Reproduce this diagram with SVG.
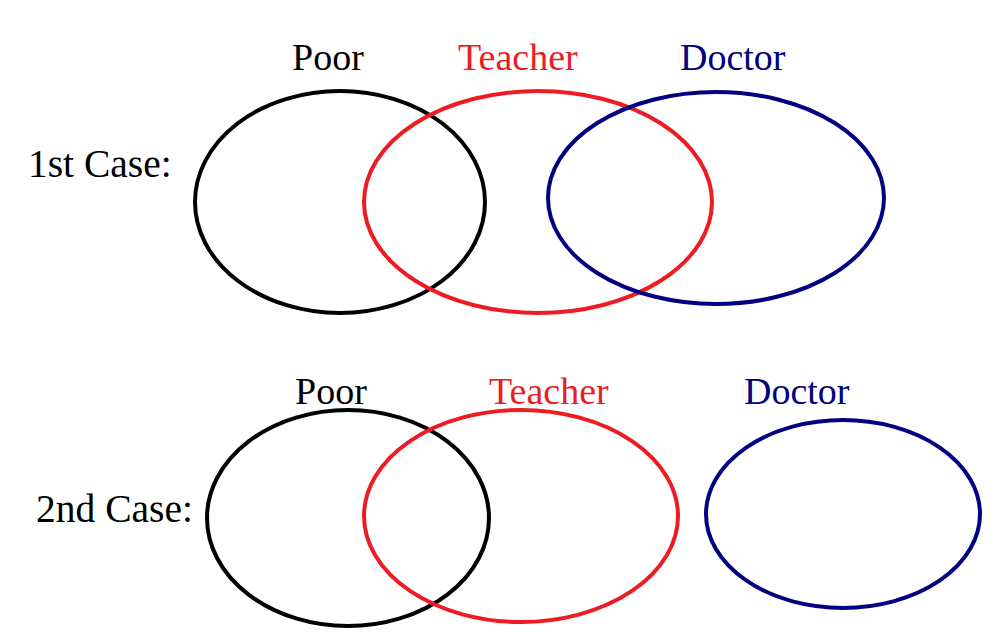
<svg xmlns="http://www.w3.org/2000/svg" width="996" height="643" viewBox="0 0 996 643">
<style>
text{font-family:'Liberation Serif','Tinos','DejaVu Serif',serif;font-size:38px}
.lbl{font-size:39.5px;fill:#000}
.k{fill:#000}.r{fill:#ED1C24}.b{fill:#000080}
ellipse{fill:none;stroke-width:4}
.ks{stroke:#000}.rs{stroke:#ED1C24}.bs{stroke:#000080}
</style>
<rect width="996" height="643" fill="#fff"/>
<text class="lbl" x="28" y="177">1st Case:</text>
<text class="lbl" x="36" y="522">2nd Case:</text>
<g id="poor1"><ellipse class="ks" cx="340" cy="202" rx="145" ry="111"/><text class="k" x="292" y="70">Poor</text></g>
<g id="teacher1"><ellipse class="rs" cx="538" cy="202" rx="174" ry="111"/><text class="r" x="458" y="70">Teacher</text></g>
<g id="doctor1"><ellipse class="bs" cx="716" cy="198" rx="168" ry="106"/><text class="b" x="680" y="70">Doctor</text></g>
<g id="poor2"><ellipse class="ks" cx="348" cy="518" rx="141" ry="108"/><text class="k" x="295" y="404">Poor</text></g>
<g id="teacher2"><ellipse class="rs" cx="521" cy="516" rx="157" ry="106"/><text class="r" x="489" y="404">Teacher</text></g>
<g id="doctor2"><ellipse class="bs" cx="843" cy="514" rx="137" ry="94"/><text class="b" x="744" y="404">Doctor</text></g>
<g id="connectors"></g>
</svg>
